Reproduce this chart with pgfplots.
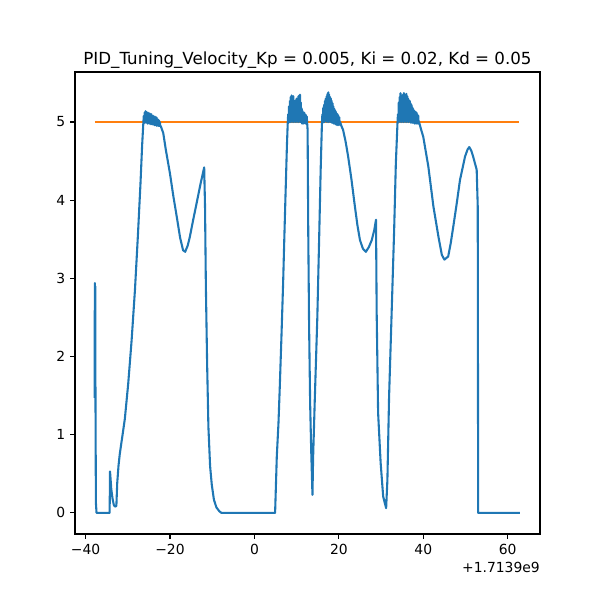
\documentclass[border=0pt]{standalone}
\usepackage{pgfplots}
\pgfplotsset{compat=1.18}
\usepackage{fontspec}
\setmainfont{DejaVu Sans}
\definecolor{c0}{HTML}{1F77B4}
\definecolor{c1}{HTML}{FF7F0E}
\begin{document}
\begin{tikzpicture}
\useasboundingbox (0,0) rectangle (432pt,432pt);
\begin{axis}[
  at={(54pt,47.52pt)}, anchor=south west,
  scale only axis, width=334.8pt, height=332.64pt,
  xmin=-42.5, xmax=67.65, ymin=-0.27, ymax=5.64,
  xtick={-40,-20,0,20,40,60},
  xticklabels={−40,−20,0,20,40,60},
  ytick={0,1,2,3,4,5},
  yticklabels={0,1,2,3,4,5},
  xtick pos=bottom, ytick pos=left,
  tick align=outside, major tick length=3.5pt,
  major tick style={line width=0.8pt, black},
  axis line style={line width=0.8pt, black},
  tick label style={font=\fontsize{10}{12}\selectfont},
  title={PID\_Tuning\_Velocity\_Kp = 0.005, Ki = 0.02, Kd = 0.05},
  title style={font=\fontsize{12}{14}\selectfont, yshift=-7.2pt},
  clip mode=individual,
]
\addplot[c1, line width=1.5pt] coordinates {(-37.8,5) (62.7,5)};
\addplot[c0, line width=1.5pt, line join=round] coordinates {
(-37.85,1.47) (-37.8,2.94) (-37.75,1.55) (-37.7,2.9) (-37.65,1.5) (-37.55,0.13) (-37.4,0.0)
(-34.3,0.0) (-34.2,0.53) (-33.9,0.3) (-33.6,0.18) (-33.3,0.1) (-33.0,0.08) (-32.7,0.09)
(-32.5,0.38) (-32.2,0.6) (-31.9,0.75) (-31.5,0.9) (-30.7,1.2) (-29.9,1.65) (-29.1,2.2)
(-28.3,2.85) (-27.6,3.55) (-27.0,4.2) (-26.6,4.7)
(-26.3,5.0) (-26.2,5.08) (-26.1,4.99) (-26.0,5.12) (-25.9,4.99) (-25.8,5.14) (-25.7,5.0) (-25.6,5.13)
(-25.5,4.99) (-25.4,5.1) (-25.3,4.98) (-25.2,5.12) (-25.1,4.99) (-25.0,5.09) (-24.9,4.98) (-24.8,5.11)
(-24.7,4.98) (-24.6,5.08) (-24.5,4.97) (-24.4,5.1) (-24.3,4.98) (-24.2,5.07) (-24.1,4.97) (-24.0,5.08)
(-23.9,4.97) (-23.8,5.06) (-23.7,4.96) (-23.6,5.07) (-23.5,4.96) (-23.4,5.05) (-23.3,4.96) (-23.2,5.06)
(-23.1,4.95) (-23.0,5.04) (-22.9,4.96) (-22.8,5.03) (-22.7,4.95) (-22.6,5.02) (-22.5,4.95) (-22.4,5.0)
(-22.3,4.95) (-22.2,4.95)
(-21.6,4.86) (-21.0,4.65) (-20.0,4.34) (-19.2,4.05) (-18.4,3.79) (-17.6,3.52) (-16.9,3.36)
(-16.4,3.34) (-15.8,3.42) (-15.3,3.53) (-14.5,3.75) (-13.7,3.96) (-12.8,4.2) (-11.9,4.42)
(-11.7,3.92) (-11.5,2.9) (-11.2,1.9) (-10.9,1.1) (-10.5,0.6) (-10.1,0.36) (-9.6,0.17)
(-9.0,0.07) (-8.3,0.02) (-7.8,0.0)
(4.9,0.0) (5.3,0.72) (5.7,1.15) (6.0,1.6) (6.4,2.25) (6.8,2.94) (7.1,3.55) (7.4,4.13) (7.7,4.7)
(7.9,5.0) (8.0,5.1) (8.1,4.99) (8.2,5.2) (8.3,5.0) (8.4,5.27) (8.5,5.0) (8.6,5.32) (8.7,5.01)
(8.8,5.34) (8.9,5.0) (9.0,5.3) (9.1,5.02) (9.2,5.33) (9.3,5.0) (9.4,5.27) (9.5,5.01) (9.6,5.25)
(9.7,5.0) (9.8,5.28) (9.9,5.02) (10.0,5.3) (10.1,5.0) (10.2,5.29) (10.3,5.01) (10.4,5.33)
(10.5,5.0) (10.6,5.34) (10.7,5.02) (10.8,5.35) (10.9,5.0) (11.0,5.25) (11.1,5.0) (11.2,5.17)
(11.3,4.98) (11.4,5.14) (11.5,5.0) (11.6,5.12) (11.7,4.98) (11.8,5.12) (11.9,5.0) (12.0,5.1)
(12.1,4.98) (12.2,5.09) (12.3,4.99) (12.4,5.07) (12.5,4.98) (12.6,4.9)
(12.75,3.6) (12.95,2.4) (13.2,1.4) (13.45,0.8) (13.75,0.23) (13.9,0.7) (14.3,1.45) (14.9,2.5)
(15.35,3.55) (15.7,4.4)
(16.0,5.0) (16.1,5.1) (16.2,4.99) (16.3,5.18) (16.4,5.0) (16.5,5.22) (16.6,5.0) (16.7,5.27)
(16.8,5.01) (16.9,5.3) (17.0,5.02) (17.1,5.33) (17.2,5.0) (17.3,5.36) (17.4,5.02) (17.5,5.38)
(17.6,5.0) (17.7,5.35) (17.8,5.02) (17.9,5.32) (18.0,5.0) (18.1,5.3) (18.2,5.01) (18.3,5.27)
(18.4,4.99) (18.5,5.24) (18.6,5.0) (18.7,5.2) (18.8,4.98) (18.9,5.17) (19.0,5.0) (19.1,5.15)
(19.2,4.97) (19.3,5.13) (19.4,5.0) (19.5,5.11) (19.6,4.96) (19.7,5.1) (19.8,4.98) (19.9,5.08)
(20.0,4.96) (20.1,5.06) (20.2,4.97) (20.3,5.0)
(20.6,4.95) (21.0,4.9) (21.6,4.75) (22.2,4.56) (23.0,4.26) (23.8,3.92) (24.4,3.68) (25.0,3.49)
(25.7,3.38) (26.4,3.34) (27.1,3.4) (27.8,3.49) (28.4,3.62) (28.8,3.75)
(28.96,2.56) (29.3,1.28) (29.9,0.64) (30.5,0.21) (31.2,0.06) (31.5,0.42) (31.9,1.49)
(32.5,2.55) (33.1,3.62) (33.5,4.47)
(33.9,5.0) (34.0,5.1) (34.1,5.0) (34.2,5.25) (34.3,5.01) (34.4,5.32) (34.5,5.0) (34.6,5.37)
(34.7,5.02) (34.8,5.33) (34.9,5.0) (35.0,5.32) (35.1,5.01) (35.2,5.35) (35.3,5.0) (35.4,5.37)
(35.5,5.02) (35.6,5.34) (35.7,5.0) (35.8,5.35) (35.9,5.01) (36.0,5.36) (36.1,5.0) (36.2,5.33)
(36.3,5.02) (36.4,5.3) (36.5,5.0) (36.6,5.28) (36.7,5.01) (36.8,5.27) (36.9,5.0) (37.0,5.24)
(37.1,4.99) (37.2,5.22) (37.3,5.0) (37.4,5.19) (37.5,4.99) (37.6,5.17) (37.7,5.0) (37.8,5.15)
(37.9,4.98) (38.0,5.13) (38.1,5.0) (38.2,5.13) (38.3,4.98) (38.4,5.12) (38.5,4.99) (38.6,5.1)
(38.7,4.98) (38.8,5.08) (38.9,4.98) (39.0,5.0)
(39.4,4.92) (40.0,4.81) (41.2,4.43) (42.4,3.92) (43.6,3.53) (44.4,3.3) (45.0,3.24) (45.9,3.28)
(46.5,3.45) (47.1,3.66) (47.9,3.95) (48.7,4.26) (49.9,4.56) (50.5,4.65) (50.9,4.68) (51.4,4.63)
(51.8,4.56) (52.65,4.39) (52.9,3.92) (53.0,0.0) (62.9,0.0)
};
\node[anchor=base east, inner sep=0pt, font=\fontsize{10}{12}\selectfont] at (rel axis cs:1,0) [yshift=-27.4pt] {+1.7139e9};
\end{axis}
\end{tikzpicture}
\end{document}
